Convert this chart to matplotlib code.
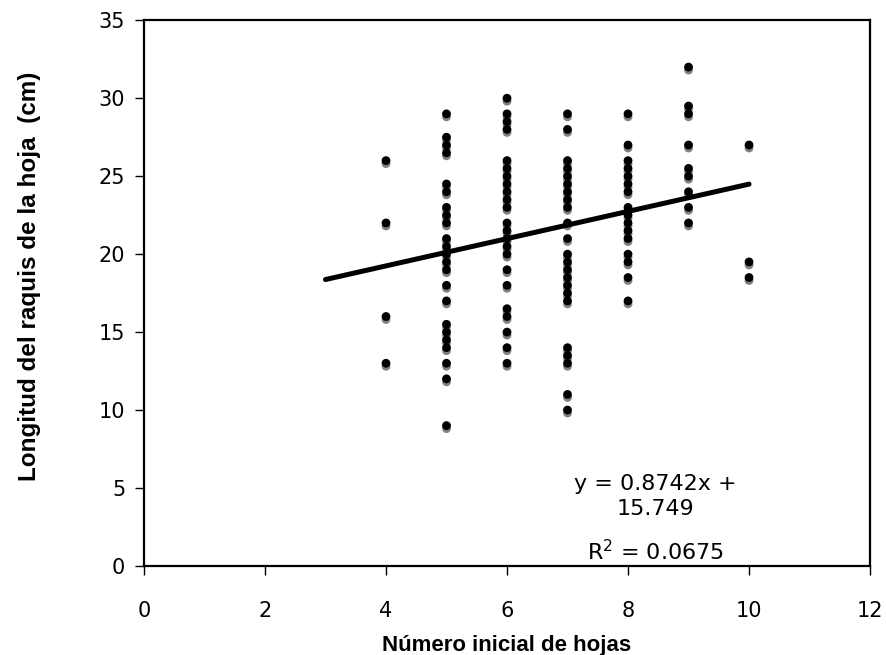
import numpy as np
import matplotlib.pyplot as plt
import matplotlib.transforms as mtransforms

# Leaf counts and rachis lengths, one list per leaf count
hojas_4 = [26, 22, 16, 13]
hojas_5 = [29, 27.5, 27, 26.5, 24.5, 24, 23, 22.5, 22, 21, 20.5, 20, 19.5, 19,
           18, 17, 15.5, 15, 14.5, 14, 13, 12, 9]
hojas_6 = [30, 29, 28.5, 28, 26, 25.5, 25, 24.5, 24, 23.5, 23, 22, 21.5, 21,
           20.5, 20, 19, 18, 16.5, 16, 15, 14, 13]
hojas_7 = [29, 28, 26, 25.5, 25, 24.5, 24, 23.5, 23, 22, 21, 20, 19.5, 19,
           18.5, 18, 17.5, 17, 14, 13.5, 13, 11, 10]
hojas_8 = [29, 27, 26, 25.5, 25, 24.5, 24, 23, 22.5, 22, 21.5, 21, 20, 19.5,
           18.5, 17]
hojas_9 = [32, 29.5, 29, 27, 25.5, 25, 24, 23, 22]
hojas_10 = [27, 19.5, 18.5]

grupos = {4: hojas_4, 5: hojas_5, 6: hojas_6, 7: hojas_7,
          8: hojas_8, 9: hojas_9, 10: hojas_10}

# Linear trend reported for the data
pendiente = 0.8742
intercepto = 15.749
r2 = 0.0675
x_trend = [3, 10]

x = np.concatenate([[k] * len(v) for k, v in grupos.items()])
y = np.concatenate([v for v in grupos.values()])

fig = plt.figure(figsize=(8.86, 6.55), dpi=100)
ax = fig.add_axes([0.1625, 0.136, 0.8195, 0.833])

# gray drop shadow a few pixels below each point
shadow = mtransforms.offset_copy(ax.transData, fig=fig, x=0, y=-3, units='dots')
ax.scatter(x, y, s=40, color='#808080', edgecolors='none', transform=shadow, zorder=2)
ax.scatter(x, y, s=40, color='black', edgecolors='none', zorder=3)

xt = np.array(x_trend)
ax.plot(xt, pendiente * xt + intercepto, color='black', lw=3.6,
        solid_capstyle='round', zorder=4)

ax.set_xlim(0, 12)
ax.set_ylim(0, 35)
ax.set_xticks(range(0, 13, 2))
ax.set_yticks(range(0, 36, 5))

for s in ax.spines.values():
    s.set_linewidth(1.6)
ax.tick_params(direction='out', length=6.5, width=1.0, labelsize=15)
ax.tick_params(axis='x', pad=19)
ax.tick_params(axis='y', pad=7)

ax.set_xlabel('Número inicial de hojas', family='Liberation Sans',
              fontweight='bold', fontsize=16, labelpad=9.5)
ax.set_ylabel('Longitud del raquis de la hoja  (cm)', family='Liberation Sans',
              fontweight='bold', fontsize=17.5)
ax.yaxis.set_label_coords(-0.142, 0.531)

ax.text(8.45, 4.45, f'y = {pendiente}x +\n{intercepto}', ha='center', va='center',
        fontsize=16, linespacing=1.35)
ax.text(8.45, 0.9, f'R$^2$ = {r2}', ha='center', va='center', fontsize=16)

fig.savefig('out.png', dpi=100)
